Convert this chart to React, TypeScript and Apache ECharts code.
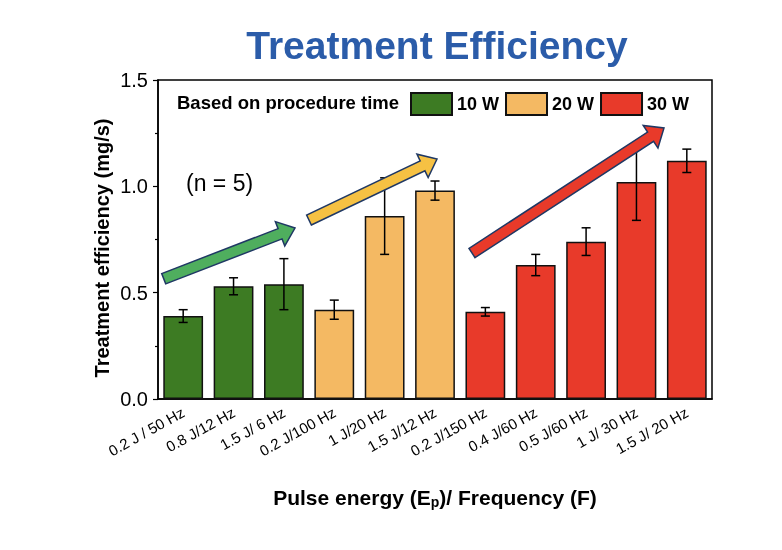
import React, { useEffect, useRef } from "react";
import * as echarts from "echarts";

const categories = [
  "0.2 J / 50 Hz",
  "0.8 J/12 Hz",
  "1.5 J/ 6 Hz",
  "0.2 J/100 Hz",
  "1 J/20 Hz",
  "1.5 J/12 Hz",
  "0.2 J/150 Hz",
  "0.4 J/60 Hz",
  "0.5 J/60 Hz",
  "1 J/ 30 Hz",
  "1.5 J/ 20 Hz",
];
const powerGroup = ["10 W", "10 W", "10 W", "20 W", "20 W", "20 W", "30 W", "30 W", "30 W", "30 W", "30 W"];
const efficiency = [0.39, 0.53, 0.54, 0.42, 0.86, 0.98, 0.41, 0.63, 0.74, 1.02, 1.12];
const errors = [0.03, 0.04, 0.12, 0.045, 0.18, 0.045, 0.02, 0.05, 0.065, 0.18, 0.055];
const groups = ["10 W", "20 W", "30 W"];
const groupColors = ["#3d7b23", "#f4b963", "#e83a2a"];
const yTicks = [0, 0.5, 1.0, 1.5];

const FONT = "'Liberation Sans', Arial, Helvetica, sans-serif";

function arrowPoints(tx: number, ty: number, px: number, py: number, w: number, hw: number, hl: number) {
  const dx = px - tx, dy = py - ty;
  const L = Math.hypot(dx, dy);
  const ux = dx / L, uy = dy / L;
  const nx = -uy, ny = ux;
  const bx = px - ux * hl, by = py - uy * hl;
  return [
    [tx + (nx * w) / 2, ty + (ny * w) / 2],
    [bx + (nx * w) / 2, by + (ny * w) / 2],
    [bx + (nx * hw) / 2, by + (ny * hw) / 2],
    [px, py],
    [bx - (nx * hw) / 2, by - (ny * hw) / 2],
    [bx - (nx * w) / 2, by - (ny * w) / 2],
    [tx - (nx * w) / 2, ty - (ny * w) / 2],
  ];
}

export default function App() {
  const ref = useRef<HTMLDivElement>(null);
  useEffect(() => {
    if (!ref.current) return;
    const chart = echarts.init(ref.current, null, { renderer: "svg" });

    const barSeries = groups.map((g, gi) => ({
      name: g,
      type: "bar",
      barWidth: "79%",
      barGap: "-100%",
      itemStyle: { color: groupColors[gi], borderColor: "#111", borderWidth: 1.5 },
      data: efficiency.map((v, i) => (powerGroup[i] === g ? v : "-")),
      z: 2,
    }));

    const errData = efficiency.map((v, i) => [i, v, errors[i]]);

    const arrowStroke = "#1f3864";
    const arrows = [
      { pts: arrowPoints(163.7, 278.7, 295, 228, 11, 26, 16), fill: "#4fae5e" },
      { pts: arrowPoints(309, 220, 437, 159, 11, 26, 16), fill: "#f6c143" },
      { pts: arrowPoints(472, 253, 664, 128, 11, 27, 16), fill: "#e83a2a" },
    ];

    chart.setOption({
      animation: false,
      grid: {
        left: 158,
        right: 70,
        top: 80,
        bottom: 151,
        show: true,
        borderColor: "#000",
        borderWidth: 1.5,
        backgroundColor: "transparent",
      },
      legend: {
        data: groups,
        left: 405,
        top: 87,
        itemWidth: 41,
        itemHeight: 22,
        itemGap: 6,
        icon: "rect",
        textStyle: { fontFamily: FONT, fontWeight: "bold", fontSize: 18, color: "#000" },
      },
      xAxis: {
        type: "category",
        data: categories,
        axisLine: { lineStyle: { color: "#000", width: 1.5 } },
        axisTick: { alignWithLabel: true, length: 5, lineStyle: { color: "#000", width: 1.2 } },
        axisLabel: {
          rotate: 29,
          interval: 0,
          margin: 12,
          fontSize: 15,
          fontFamily: FONT,
          color: "#000",
        },
        name: "Pulse energy (E{sub|p})/ Frequency (F)",
        nameLocation: "middle",
        nameGap: 86,
        nameTextStyle: {
          fontFamily: FONT,
          fontWeight: "bold",
          fontSize: 21,
          color: "#000",
          rich: {
            sub: { fontFamily: FONT, fontWeight: "bold", fontSize: 14, color: "#000", verticalAlign: "bottom", padding: [10, 0, 0, 0] },
          },
        },
      },
      yAxis: {
        type: "value",
        min: yTicks[0],
        max: yTicks[yTicks.length - 1],
        interval: 0.5,
        axisLine: { show: true, lineStyle: { color: "#000", width: 1.5 } },
        axisTick: { show: true, length: 5, lineStyle: { color: "#000", width: 1.2 } },
        minorTick: { show: true, splitNumber: 2, length: 3, lineStyle: { color: "#000", width: 1.2 } },
        splitLine: { show: false },
        axisLabel: {
          fontSize: 20,
          fontFamily: FONT,
          color: "#000",
          margin: 10,
          formatter: (v: number) => v.toFixed(1),
        },
      },
      series: [
        ...barSeries,
        {
          type: "custom",
          name: "err",
          z: 3,
          encode: { x: 0, y: 1 },
          data: errData,
          renderItem: (params: any, api: any) => {
            const x = api.value(0);
            const v = api.value(1);
            const e = api.value(2);
            const top = api.coord([x, v + e]);
            const bot = api.coord([x, v - e]);
            const hw = 4.5;
            const st = { stroke: "#000", lineWidth: 1.5 };
            return {
              type: "group",
              children: [
                { type: "line", shape: { x1: top[0], y1: top[1], x2: bot[0], y2: bot[1] }, style: st },
                { type: "line", shape: { x1: top[0] - hw, y1: top[1], x2: top[0] + hw, y2: top[1] }, style: st },
                { type: "line", shape: { x1: bot[0] - hw, y1: bot[1], x2: bot[0] + hw, y2: bot[1] }, style: st },
              ],
            };
          },
        },
      ],
      graphic: [
        {
          type: "text",
          x: 437,
          y: 45,
          style: {
            text: "Treatment Efficiency",
            fill: "#2b5ca9",
            font: `bold 39px ${FONT}`,
            textAlign: "center",
            textVerticalAlign: "middle",
          },
        },
        {
          type: "text",
          x: 102,
          y: 248,
          rotation: Math.PI / 2,
          style: {
            text: "Treatment efficiency (mg/s)",
            fill: "#000",
            font: `bold 20px ${FONT}`,
            textAlign: "center",
            textVerticalAlign: "middle",
          },
        },
        {
          type: "text",
          x: 177,
          y: 102,
          z: 10,
          style: {
            text: "Based on procedure time",
            fill: "#000",
            font: `bold 18.5px ${FONT}`,
            textAlign: "left",
            textVerticalAlign: "middle",
          },
        },
        {
          type: "text",
          x: 186,
          y: 183,
          style: {
            text: "(n = 5)",
            fill: "#000",
            font: `23px ${FONT}`,
            textAlign: "left",
            textVerticalAlign: "middle",
          },
        },
        ...arrows.map((a) => ({
          type: "polygon",
          z: 100,
          shape: { points: a.pts },
          style: { fill: a.fill, stroke: arrowStroke, lineWidth: 1.5 },
        })),
      ],
    });
    return () => chart.dispose();
  }, []);
  return <div ref={ref} style={{ position: "fixed", left: 0, top: 0, width: 782, height: 550 }} />;
}
